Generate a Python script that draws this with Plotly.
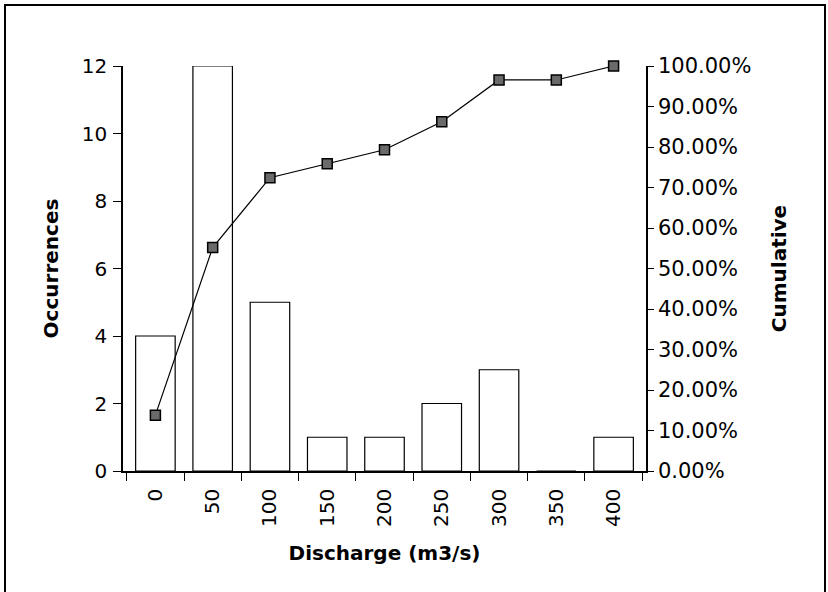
import plotly.graph_objects as go

categories = ["0", "50", "100", "150", "200", "250", "300", "350", "400"]
occurrences = [4, 12, 5, 1, 1, 2, 3, 0, 1]
cumulative = [0.1379, 0.5517, 0.7241, 0.7586, 0.7931, 0.8621, 0.9655, 0.9655, 1.0]
left_ticks = [0, 2, 4, 6, 8, 10, 12]
right_ticks = [0, 0.1, 0.2, 0.3, 0.4, 0.5, 0.6, 0.7, 0.8, 0.9, 1.0]

W, H = 828, 592
L, R, T, B = 123, 182, 66, 121
pw, ph = W - L - R, H - T - B

FONT = "DejaVu Sans"

fig = go.Figure()
fig.add_trace(go.Bar(
    x=categories, y=occurrences, name="Occurrences",
    marker=dict(color="white", line=dict(color="black", width=1.2)),
    yaxis="y",
))
fig.add_trace(go.Scatter(
    x=categories, y=cumulative, name="Cumulative", mode="lines+markers",
    line=dict(color="black", width=1.2),
    marker=dict(symbol="square", size=10, color="#6a6a6a", line=dict(color="black", width=1.5)),
    yaxis="y2", cliponaxis=False,
))

def px2paper_x(p):
    return (p - L) / pw

def px2paper_y(p):
    return (H - B - p) / ph

# outer frame (bottom edge lies below the visible page, as in the scan)
fig.add_shape(type="rect", xref="paper", yref="paper",
              x0=px2paper_x(5), x1=px2paper_x(825), y0=px2paper_y(600), y1=px2paper_y(5),
              line=dict(color="black", width=2), fillcolor="rgba(0,0,0,0)", layer="below")

fig.update_layout(
    width=W, height=H,
    margin=dict(l=L, r=R, t=T, b=B, autoexpand=False),
    paper_bgcolor="white", plot_bgcolor="white",
    showlegend=False,
    bargap=0.31,
    font=dict(family=FONT, color="black", size=20),
    xaxis=dict(
        type="category", tickson="boundaries", ticks="outside", ticklen=8, tickwidth=1.2,
        tickcolor="black", showline=True, linecolor="black", linewidth=1.5,
        tickangle=-90, tickfont=dict(size=20, family=FONT), ticklabelstandoff=8,
        title=dict(text="<b>Discharge (m3/s)</b>", font=dict(size=20, family=FONT), standoff=20),
        showgrid=False, zeroline=False,
    ),
    yaxis=dict(
        range=[0, 12], tickvals=left_ticks, ticks="outside", ticklen=8, tickwidth=1.2,
        tickcolor="black", showline=True, linecolor="black", linewidth=1.5,
        tickfont=dict(size=20, family=FONT), ticklabelstandoff=2,
        title=dict(text="<b>Occurrences</b>", font=dict(size=20, family=FONT), standoff=18),
        showgrid=False, zeroline=False,
    ),
    yaxis2=dict(
        range=[0, 1], tickvals=right_ticks, tickformat=".2%", overlaying="y", side="right",
        ticks="outside", ticklen=6, tickwidth=1.2, tickcolor="black",
        showline=True, linecolor="black", linewidth=1.5,
        tickfont=dict(size=21, family=FONT), ticklabelstandoff=0,
        title=dict(text="<b>Cumulative</b>", font=dict(size=20, family=FONT), standoff=22),
        showgrid=False, zeroline=False,
    ),
)

fig.write_html("out.html")
